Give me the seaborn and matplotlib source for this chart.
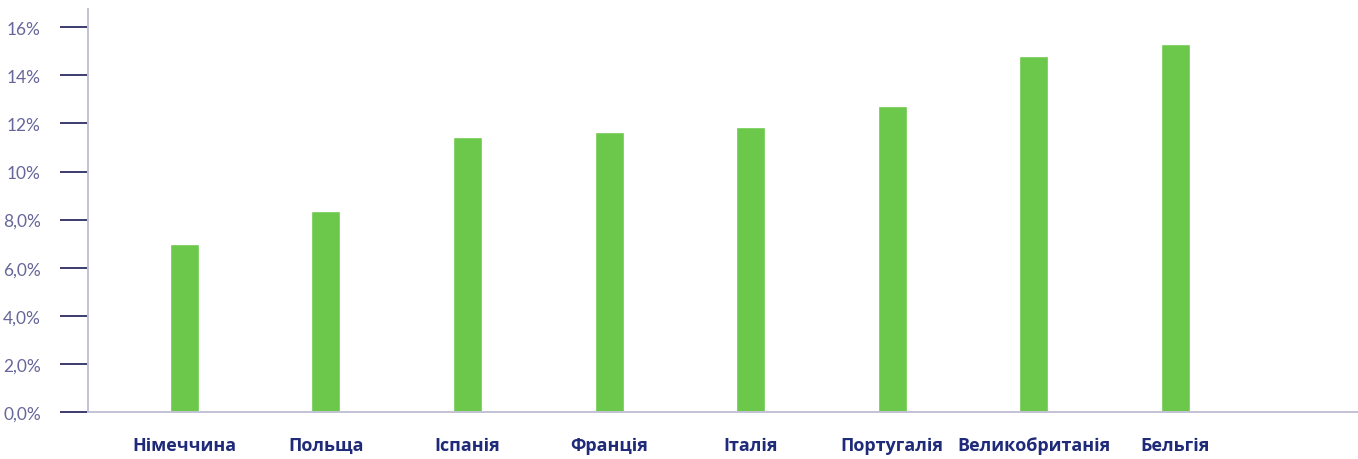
import matplotlib
matplotlib.use("Agg")
import matplotlib.pyplot as plt
import seaborn as sns
import pandas as pd

# дані з графіка
countries = ["Німеччина", "Польща", "Іспанія", "Франція", "Італія",
             "Португалія", "Великобританія", "Бельгія"]
values = [7.0, 8.35, 11.45, 11.65, 11.85, 12.72, 14.8, 15.3]
yticks = [0, 2, 4, 6, 8, 10, 12, 14, 16]
ytick_labels = ["0,0%", "2,0%", "4,0%", "6,0%", "8,0%", "10%", "12%", "14%", "16%"]

df = pd.DataFrame({"country": countries, "value": values})

sns.set_theme(style="white")
plt.rcParams["font.family"] = ["Lato", "DejaVu Sans"]

fig = plt.figure(figsize=(13.58, 4.6), dpi=100)
ax = fig.add_axes([0.0648, 0.102, 0.9352, 0.876])

sns.barplot(data=df, x="country", y="value", color="#6cc84a", width=0.205,
            saturation=1, ax=ax)

ax.set_xlim(-0.68, 8.29)
ax.set_ylim(0, 16.75)
ax.set_yticks(yticks)
ax.set_yticklabels(ytick_labels, fontsize=12.5)
ax.set_xlabel("")
ax.set_ylabel("")

for lbl in ax.get_xticklabels():
    lbl.set_family(["Open Sans", "DejaVu Sans"])
    lbl.set_fontweight("bold")
    lbl.set_fontsize(13)
    lbl.set_color("#1f2a78")

ax.tick_params(axis="y", direction="out", length=20, width=1.4,
               color="#3c3c6e", labelcolor="#66669a", pad=14, left=True)
ax.tick_params(axis="x", length=0, pad=17)

for side in ["top", "right"]:
    ax.spines[side].set_visible(False)
for side in ["left", "bottom"]:
    ax.spines[side].set_color("#c2c2d4")
    ax.spines[side].set_linewidth(1.4)

fig.savefig("out.png", dpi=100)
